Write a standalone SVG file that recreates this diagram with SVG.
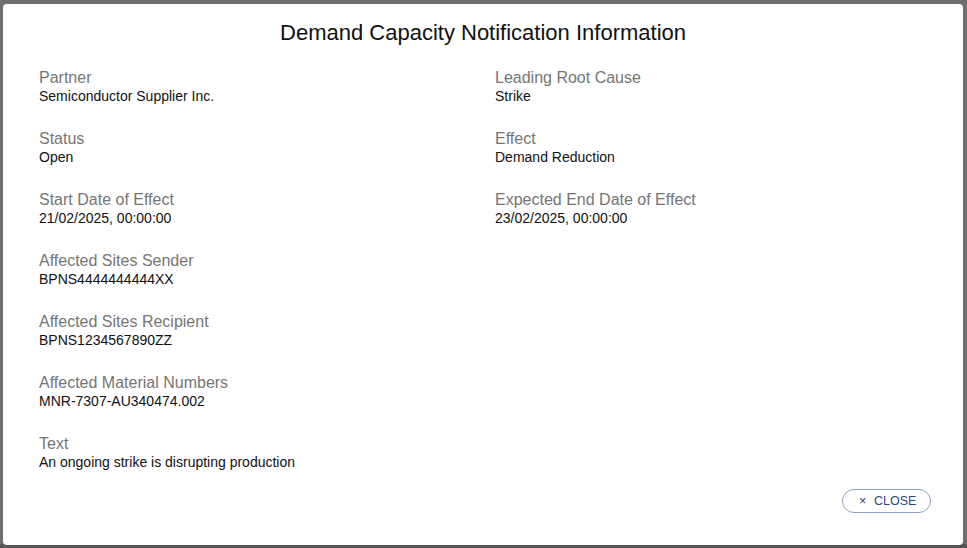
<svg xmlns="http://www.w3.org/2000/svg" width="967" height="548" viewBox="0 0 967 548">
<style>
.lbl{font-family:"Liberation Sans",Arial,sans-serif;font-size:16px;fill:#757575}
.val{font-family:"Liberation Sans",Arial,sans-serif;font-size:14px;fill:#111}
.title{font-family:"Liberation Sans",Arial,sans-serif;font-size:22px;fill:#111}
</style>
<rect x="0" y="0" width="967" height="548" fill="#6e6e6e"/>
<rect x="0" y="544" width="967" height="4" fill="#555555"/>
<rect x="3" y="4" width="960" height="541" rx="4" fill="#ffffff"/>
<text class="title" x="483" y="40" text-anchor="middle">Demand Capacity Notification Information</text>
<g id="partner"><text class="lbl" x="39" y="83">Partner</text><text class="val" x="39" y="101">Semiconductor Supplier Inc.</text></g>
<g id="status"><text class="lbl" x="39" y="144">Status</text><text class="val" x="39" y="162">Open</text></g>
<g id="start"><text class="lbl" x="39" y="205">Start Date of Effect</text><text class="val" x="39" y="223">21/02/2025, 00:00:00</text></g>
<g id="sender"><text class="lbl" x="39" y="266">Affected Sites Sender</text><text class="val" x="39" y="284">BPNS4444444444XX</text></g>
<g id="recipient"><text class="lbl" x="39" y="327">Affected Sites Recipient</text><text class="val" x="39" y="345">BPNS1234567890ZZ</text></g>
<g id="material"><text class="lbl" x="39" y="388">Affected Material Numbers</text><text class="val" x="39" y="406">MNR-7307-AU340474.002</text></g>
<g id="text"><text class="lbl" x="39" y="449">Text</text><text class="val" x="39" y="467">An ongoing strike is disrupting production</text></g>
<g id="rootcause"><text class="lbl" x="495" y="83">Leading Root Cause</text><text class="val" x="495" y="101">Strike</text></g>
<g id="effect"><text class="lbl" x="495" y="144">Effect</text><text class="val" x="495" y="162">Demand Reduction</text></g>
<g id="end"><text class="lbl" x="495" y="205">Expected End Date of Effect</text><text class="val" x="495" y="223">23/02/2025, 00:00:00</text></g>
<g id="close">
<rect x="842.5" y="489.5" width="88" height="23" rx="11.5" fill="#fff" stroke="#8c9fc4"/>
<text x="859" y="505" font-family="'Liberation Sans',Arial,sans-serif" font-size="12.5" fill="#2b4585">×<tspan x="874">CLOSE</tspan></text>
</g>
</svg>
